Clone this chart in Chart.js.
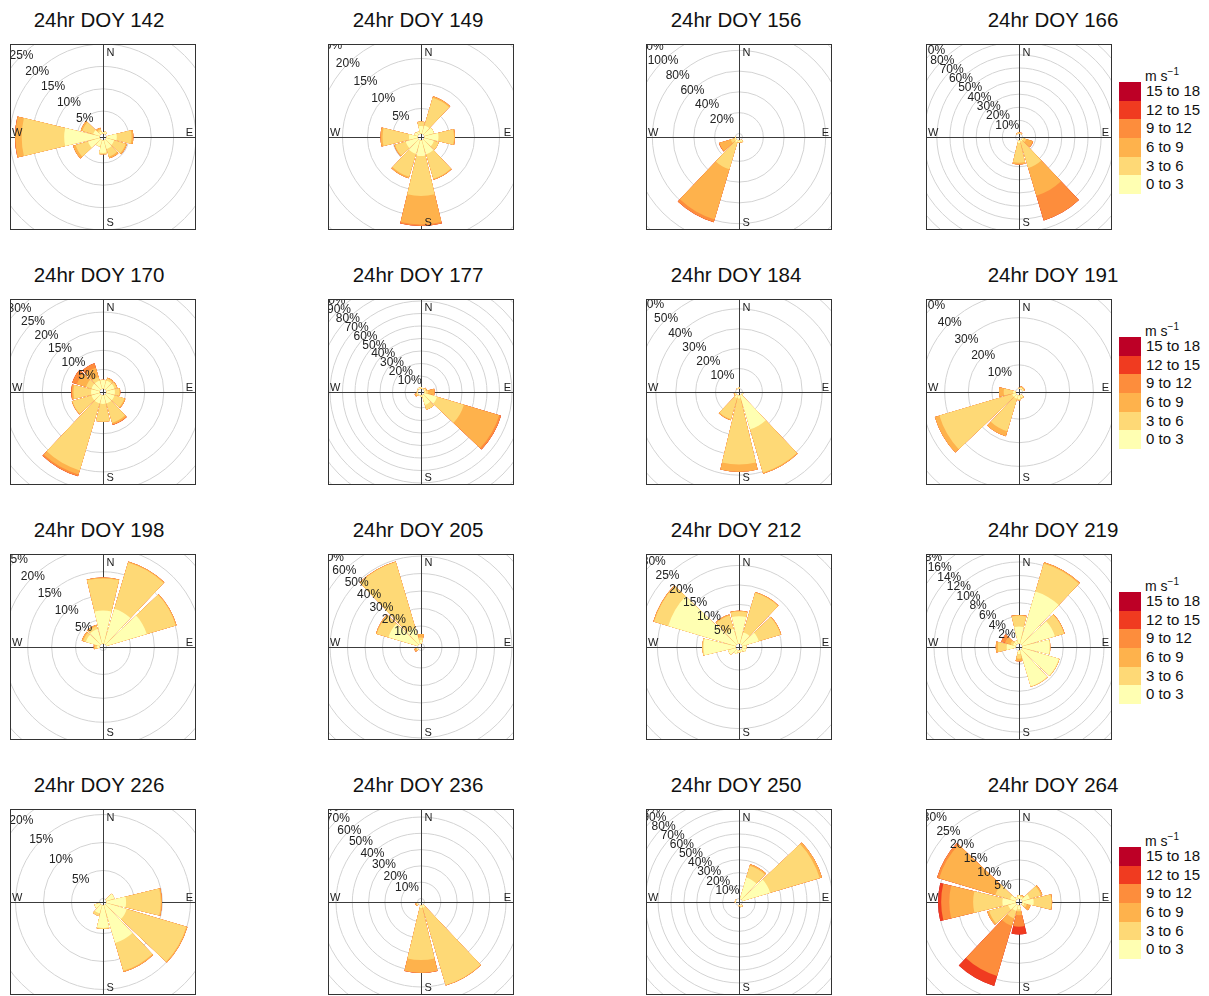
<!DOCTYPE html>
<html lang="en">
<head>
<meta charset="utf-8">
<title>24hr wind roses</title>
<script src="https://cdn.jsdelivr.net/npm/chart.js@4.4.1/dist/chart.umd.min.js"></script>
<style>
  body { margin: 0; background: #fff; font-family: "Liberation Sans", Arial, sans-serif; color: #111; }
  #lienzo { position: relative; width: 1209px; height: 996px; overflow: hidden; }
  .titulo { position: absolute; width: 300px; margin-left: -150px; text-align: center; font-size: 20.5px; line-height: 20.5px; white-space: nowrap; }
  .marco { position: absolute; width: 186px; height: 186px; box-sizing: border-box; border: 1px solid #333; overflow: hidden; background: #fff; }
  .marco canvas { position: absolute; left: -40px; top: -40px; }
  .leyenda { position: absolute; left: 1119px; width: 90px; }
  .leyenda .unidad { position: absolute; left: 26px; top: -13px; font-size: 14px; line-height: 14px; white-space: nowrap; }
  .leyenda sup { font-size: 10px; line-height: 0; }
  .fila { position: relative; height: 18.6px; }
  .fila .caja { position: absolute; left: 0; top: 0; width: 22px; height: 18.6px; }
  .fila .txt { position: absolute; left: 27px; top: 0; font-size: 15px; line-height: 18.6px; white-space: nowrap; }
</style>
</head>
<body>
<div id="lienzo"></div>
<script>
// Direcciones (sectores de 30°) y clases de velocidad
const directions = ['N', '30', '60', 'E', '120', '150', 'S', '210', '240', 'W', '300', '330'];
const speedBins = ['0 to 3', '3 to 6', '6 to 9', '9 to 12', '12 to 15', '15 to 18'];
const binColours = ['#FFFFB2', '#FED976', '#FEB24C', '#FD8D3C', '#F03B20', '#BD0026'];

const days = [142, 149, 156, 166, 170, 177, 184, 191, 198, 205, 212, 219, 226, 236, 250, 264];
// porcentaje que cae en el borde del marco
const frameMax = [19.9, 17.8, 85.6, 67.9, 23.3, 71.2, 44.7, 37.7, 18.6, 50.9, 22.8, 13.1, 15.9, 54.6, 69.0, 23.1];

// etiquetas de los círculos (%)
const tick142 = [5, 10, 15, 20, 25, 30];
const tick149 = [5, 10, 15, 20, 25];
const tick156 = [20, 40, 60, 80, 100, 120];
const tick166 = [10, 20, 30, 40, 50, 60, 70, 80, 90];
const tick170 = [5, 10, 15, 20, 25, 30, 35];
const tick177 = [10, 20, 30, 40, 50, 60, 70, 80, 90, 100];
const tick184 = [10, 20, 30, 40, 50, 60];
const tick191 = [10, 20, 30, 40, 50];
const tick198 = [5, 10, 15, 20, 25];
const tick205 = [10, 20, 30, 40, 50, 60, 70];
const tick212 = [5, 10, 15, 20, 25, 30, 35];
const tick219 = [2, 4, 6, 8, 10, 12, 14, 16, 18];
const tick226 = [5, 10, 15, 20, 25];
const tick236 = [10, 20, 30, 40, 50, 60, 70, 80];
const tick250 = [10, 20, 30, 40, 50, 60, 70, 80, 90, 100];
const tick264 = [5, 10, 15, 20, 25, 30, 35];

// frecuencia (%) por clase de velocidad; cada fila = una clase, columnas = directions
const freq142 = [
  [0.3, 0.5, 0, 2.3, 1.8, 2.0, 2.8, 1.5, 2.7, 7.9, 1.5, 0.5],
  [0, 0, 0, 3.3, 2.7, 1.8, 0.3, 0, 2.9, 9.5, 2.5, 0.5],
  [0, 0, 0, 0.4, 0.3, 0.4, 0, 0, 0.6, 1.4, 0.4, 0.4],
  [0, 0, 0, 0, 0, 0, 0, 0, 0, 0.1, 0, 0]
];
const freq149 = [
  [1.5, 1.7, 2.0, 2.8, 2.0, 2.9, 3.1, 2.8, 2.5, 1.7, 0.7, 0.5],
  [0.9, 5.8, 0, 3.1, 1.0, 5.1, 8.0, 4.8, 2.2, 5.3, 0, 0],
  [0, 0.3, 0, 0.2, 0, 0.2, 5.7, 0.3, 0.2, 0.4, 0, 0],
  [0, 0, 0, 0, 0, 0, 0.3, 0, 0, 0, 0, 0]
];
const freq156 = [
  [0, 0, 0, 0, 0, 1.5, 1.5, 2, 1, 0.5, 0, 0],
  [0, 0, 0, 0, 0, 1.0, 0.5, 27, 4, 0, 0, 0],
  [0, 0, 0, 0, 0, 0, 0, 50.3, 11.3, 0, 0, 0],
  [0, 0, 0, 0, 0, 0, 0, 2.9, 0.5, 0, 0, 0]
];
const freq166 = [
  [0.3, 0.3, 0, 0, 1, 1, 2, 0, 0, 0, 0, 0.3],
  [0.3, 0.3, 0, 0, 2, 21, 15, 0, 0, 0, 0, 0.2],
  [0.3, 0.2, 0, 0, 5.3, 22, 1.3, 0, 0, 0, 0, 0.2],
  [0.3, 0.2, 0, 0, 0.3, 19.7, 0, 0, 0, 0, 0, 0]
];
const freq170 = [
  [2.2, 2.2, 2.2, 2.2, 2.2, 2.2, 2.2, 2.2, 2.2, 2.2, 2.2, 2.2],
  [0.1, 0.5, 0.6, 1.2, 2.7, 5.3, 4.7, 18.3, 5.2, 4.6, 1.5, 1.0],
  [0, 0.3, 0.2, 0.2, 0.3, 0.4, 0, 1.1, 0.2, 0.4, 2.5, 2.5],
  [0, 0, 0, 0, 0, 0.2, 0, 0.5, 0, 0.2, 1.3, 1.2]
];
const freq177 = [
  [1, 0.5, 1, 1, 10.6, 8, 1, 0.5, 0.5, 0.5, 0.5, 1],
  [0, 0, 0.5, 2, 22.4, 4, 0, 0, 1, 0, 0, 0],
  [0, 0, 0.5, 5, 29.4, 0, 0, 0, 1, 0, 0, 0],
  [0, 0, 0, 0, 1.6, 0, 0, 0, 0, 0, 0, 0]
];
const freq184 = [
  [0.5, 0, 0, 0, 0.5, 17.8, 1.5, 1.5, 0.5, 0, 0, 0.3],
  [0, 0, 0, 0, 0, 22.7, 33.2, 11, 0, 0, 0, 0],
  [0, 0, 0, 0, 0, 0.5, 3.6, 0.5, 0.5, 0, 0, 0]
];
const freq191 = [
  [0.3, 0.5, 0.5, 0, 0, 1, 1.5, 1.5, 1.5, 1, 0, 0],
  [0, 0.3, 0.3, 0, 0, 0.5, 0.5, 14.4, 32.2, 4, 0, 0],
  [0, 0.3, 0.3, 0, 0, 0, 0, 2.2, 2.0, 2, 0, 0]
];
const freq198 = [
  [6.9, 7.6, 8.8, 0, 0, 0, 0, 0, 0, 0.5, 3.0, 3.2],
  [6.7, 10.1, 6.3, 0, 0, 0, 0, 0, 0, 0.4, 0.6, 0.6],
  [0.2, 0.2, 0.2, 0, 0, 0, 0, 0, 0, 0.3, 0.3, 0.3]
];
const freq205 = [
  [2, 0, 0, 0, 0, 0, 0, 0, 0.5, 0, 17.4, 9.4],
  [1.5, 0, 0, 0, 0, 0, 0, 0, 0.5, 0, 7.0, 39.3],
  [2, 0, 0, 0, 0, 0, 0, 0, 1, 0, 0.5, 0.3]
];
const freq212 = [
  [7, 3, 4.4, 1, 1, 0.5, 0.5, 1, 2, 8.2, 18, 4],
  [1.2, 10.6, 5.8, 0, 0, 0, 0, 0, 0, 0.3, 3.8, 3.5],
  [0.2, 0.2, 0.2, 0, 0, 0, 0, 0, 0, 0, 0.2, 0.3]
];
const freq219 = [
  [2.5, 8, 5, 4.0, 5.6, 5.5, 0.5, 0, 0, 1.3, 0.4, 0.5],
  [1.6, 4.3, 1.4, 0.1, 0.1, 0.1, 0.7, 0, 0, 1.3, 0.4, 0],
  [0.1, 0.2, 0.1, 0, 0, 0, 0.4, 0, 0, 0.3, 0.8, 0],
  [0, 0, 0, 0, 0, 0, 0, 0, 0, 0, 0.6, 0]
];
const freq226 = [
  [0, 0, 1.5, 3.5, 3.8, 7, 4.0, 1.5, 1.0, 0, 0, 0],
  [0, 0, 0, 6.2, 11.1, 5.2, 0.2, 0.5, 0, 0, 0, 0],
  [0, 0, 0, 0.2, 0.2, 0.2, 0, 0, 0, 0, 0, 0]
];
const freq236 = [
  [0, 0, 0, 0, 0, 1.5, 1.5, 0, 0.5, 0, 0, 0],
  [0, 0, 0, 0, 0, 49.5, 32.0, 0, 0.5, 0, 0, 0],
  [0, 0, 0, 0, 0, 0.3, 7.7, 0, 0.5, 0, 0, 0],
  [0, 0, 0, 0, 0, 0, 0.2, 0, 0, 0, 0, 0]
];
const freq250 = [
  [0, 17, 22.5, 0, 0, 1, 0.5, 0, 0, 0.5, 0.5, 0],
  [0, 9.5, 40, 0, 0, 0.5, 0, 0, 0, 0, 0, 0],
  [0, 1.3, 1.9, 0, 0, 0, 0, 0, 0, 0, 0, 0]
];
const freq264 = [
  [0.8, 0.5, 2, 2.9, 0.5, 0, 1, 1.5, 2, 3.4, 1.5, 0.5],
  [0, 0.3, 3, 4.6, 0.7, 0, 0.5, 2, 5.2, 7.6, 4, 0],
  [0, 0.2, 0.4, 0.2, 1.0, 0, 1, 2, 0.5, 6.2, 15.2, 0],
  [0, 0, 0, 0, 0, 0, 3, 13.6, 0, 2.1, 0.6, 0],
  [0, 0, 0, 0, 0, 0, 2, 2.7, 0, 0.8, 0, 0]
];

const freqs = [freq142, freq149, freq156, freq166, freq170, freq177, freq184, freq191,
  freq198, freq205, freq212, freq219, freq226, freq236, freq250, freq264];
const tickSets = [tick142, tick149, tick156, tick166, tick170, tick177, tick184, tick191,
  tick198, tick205, tick212, tick219, tick226, tick236, tick250, tick264];

// posiciones de la rejilla 4x4
const frameLeft = [10, 328, 646, 926];
const frameTop = [44, 299, 554, 809];
const titleCentre = [99, 418, 736, 1053];

const HOLE = 3.5;   // radio del hueco central (px)
const HALF = 92.5;  // centro -> borde del marco (px)
const GAP = 1.5 * Math.PI / 180;  // separación entre sectores
const FONT = '"Liberation Sans", Arial, sans-serif';

// apila las clases: cada conjunto llega hasta el total acumulado
function acumular(freq) {
  const salida = [];
  let suma = new Array(12).fill(0);
  for (let b = 0; b < speedBins.length; b++) {
    const fila = freq[b] || [];
    suma = suma.map((v, i) => v + (fila[i] || 0));
    salida.push(suma);
  }
  return salida;
}

function pluginRosa(ticks) {
  return {
    id: 'rosa',
    // estrecha los sectores y los arranca en el borde del hueco
    afterDatasetsUpdate(chart) {
      const hueco = chart.scales.r.getDistanceFromCenterForValue(0);
      chart.data.datasets.forEach((ds, i) => {
        chart.getDatasetMeta(i).data.forEach(arc => {
          arc.startAngle += GAP;
          arc.endAngle -= GAP;
          arc.innerRadius = hueco;
        });
      });
    },
    // ejes N-S y E-W por debajo de los sectores
    beforeDatasetsDraw(chart) {
      const { ctx } = chart;
      const r = chart.scales.r;
      const cx = r.xCenter, cy = r.yCenter;
      ctx.save();
      ctx.strokeStyle = '#3c3c3c';
      ctx.lineWidth = 1;
      ctx.beginPath();
      ctx.moveTo(cx + 0.5, 0);
      ctx.lineTo(cx + 0.5, chart.height);
      ctx.moveTo(0, cy + 0.5);
      ctx.lineTo(chart.width, cy + 0.5);
      ctx.stroke();
      ctx.restore();
    },
    // porcentajes en diagonal y puntos cardinales
    afterDatasetsDraw(chart) {
      const { ctx } = chart;
      const r = chart.scales.r;
      const cx = r.xCenter, cy = r.yCenter;
      ctx.save();
      ctx.fillStyle = '#222';
      ctx.font = '12px ' + FONT;
      ctx.textAlign = 'center';
      ctx.textBaseline = 'middle';
      ticks.forEach(v => {
        const d = r.getDistanceFromCenterForValue(v) * Math.SQRT1_2;
        ctx.fillText(v + '%', cx - d, cy - d);
      });
      ctx.font = '11px ' + FONT;
      ctx.textAlign = 'left';
      ctx.fillText('N', cx + 3.5, cy - 84.5);
      ctx.fillText('S', cx + 3.5, cy + 86);
      ctx.textBaseline = 'alphabetic';
      ctx.fillText('W', cx - 91, cy - 1.5);
      ctx.textAlign = 'right';
      ctx.fillText('E', cx + 90, cy - 1.5);
      ctx.restore();
    }
  };
}

const lienzo = document.getElementById('lienzo');

days.forEach((day, p) => {
  const col = p % 4;
  const row = Math.floor(p / 4);

  const titulo = document.createElement('div');
  titulo.className = 'titulo';
  titulo.style.left = titleCentre[col] + 'px';
  titulo.style.top = (9.5 + 255 * row) + 'px';
  titulo.textContent = '24hr DOY ' + day;
  lienzo.appendChild(titulo);

  const marco = document.createElement('div');
  marco.className = 'marco';
  marco.style.left = frameLeft[col] + 'px';
  marco.style.top = frameTop[row] + 'px';
  const canvas = document.createElement('canvas');
  canvas.width = 264;
  canvas.height = 264;
  marco.appendChild(canvas);
  lienzo.appendChild(marco);

  const acumulado = acumular(freqs[p]);
  const ticks = tickSets[p];
  const borde = frameMax[p];

  new Chart(canvas, {
    type: 'polarArea',
    data: {
      labels: directions,
      datasets: speedBins.map((bin, b) => ({
        label: bin,
        data: acumulado[b],
        backgroundColor: binColours[b],
        borderWidth: 0
      }))
    },
    options: {
      responsive: false,
      animation: false,
      events: [],
      layout: { padding: 0 },
      plugins: { legend: { display: false }, tooltip: { enabled: false } },
      scales: {
        r: {
          startAngle: -15,
          beginAtZero: false,
          ticks: { display: false },
          angleLines: { display: false },
          pointLabels: { display: false },
          grid: { circular: true, color: '#d3d3d3', lineWidth: 1 },
          afterBuildTicks(scale) {
            // px por punto porcentual, con el hueco central desplazando el cero
            const k = (HALF - HOLE) / borde;
            scale.min = -HOLE / k;
            scale.max = scale.min + scale.drawingArea / k;
            scale.ticks = [0, ...ticks].map(v => ({ value: v }));
          }
        }
      }
    },
    plugins: [pluginRosa(ticks)]
  });
});

// leyenda de velocidades en la columna derecha
for (let row = 0; row < 4; row++) {
  const ley = document.createElement('div');
  ley.className = 'leyenda';
  ley.style.top = (82.3 + 255 * row) + 'px';
  const unidad = document.createElement('div');
  unidad.className = 'unidad';
  unidad.innerHTML = 'm s<sup>\u22121</sup>';
  ley.appendChild(unidad);
  for (let b = speedBins.length - 1; b >= 0; b--) {
    const fila = document.createElement('div');
    fila.className = 'fila';
    const caja = document.createElement('span');
    caja.className = 'caja';
    caja.style.background = binColours[b];
    const txt = document.createElement('span');
    txt.className = 'txt';
    txt.textContent = speedBins[b];
    fila.appendChild(caja);
    fila.appendChild(txt);
    ley.appendChild(fila);
  }
  lienzo.appendChild(ley);
}
</script>
</body>
</html>
